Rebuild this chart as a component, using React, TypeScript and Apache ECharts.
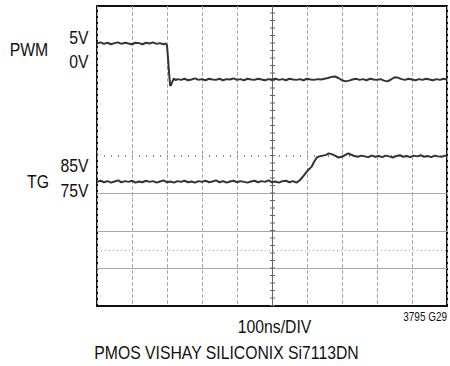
import React, { useEffect, useRef } from "react";
import * as echarts from "echarts";

// time (ns) vs screen divisions (0 = bottom, 8 = top)
const X_MIN = 0;
const X_MAX = 1000;
const X_STEP = 100;
const Y_MIN = 0;
const Y_MAX = 8;

const PWM_TRACE: [number, number][] = [
  [0, 7.0], [10, 7.03], [20, 6.99], [30, 7.02], [40, 6.98], [50, 7.01], [60, 7.03], [70, 6.99],
  [80, 7.02], [90, 7.0], [100, 6.98], [110, 7.02], [120, 7.01], [130, 6.98], [140, 7.02], [150, 7.0],
  [160, 7.03], [170, 6.99], [180, 7.01], [190, 6.98], [196, 7.0], [200, 6.95], [203, 6.6], [206, 6.2],
  [209, 5.87], [212, 5.9], [216, 6.0], [220, 6.07], [225, 6.02], [230, 6.05], [240, 6.03], [250, 6.06],
  [260, 6.02], [270, 6.04], [280, 6.07], [290, 6.03], [300, 6.05], [310, 6.02], [320, 6.06], [330, 6.04],
  [340, 6.03], [350, 6.06], [360, 6.02], [370, 6.05], [380, 6.04], [390, 6.07], [400, 6.03], [410, 6.05],
  [420, 6.02], [430, 6.06], [440, 6.04], [450, 6.03], [460, 6.06], [470, 6.04], [480, 6.02], [490, 6.05],
  [500, 6.04], [510, 6.06], [520, 6.03], [530, 6.05], [540, 6.02], [550, 6.06], [560, 6.04], [570, 6.03],
  [580, 6.05], [590, 6.02], [600, 6.06], [610, 6.04], [620, 6.03], [630, 6.05], [640, 6.04], [650, 6.06],
  [660, 6.08], [670, 6.11], [680, 6.12], [690, 6.08], [700, 6.02], [710, 5.99], [720, 6.01], [730, 6.04],
  [740, 6.06], [750, 6.03], [760, 6.05], [770, 6.02], [780, 6.06], [790, 6.04], [800, 6.03], [810, 6.05],
  [820, 6.01], [830, 5.99], [840, 6.04], [850, 6.1], [860, 6.09], [870, 6.05], [880, 6.03], [890, 6.06],
  [900, 6.04], [910, 6.02], [920, 6.05], [930, 6.03], [940, 6.06], [950, 6.04], [960, 6.02], [970, 6.05],
  [980, 6.03], [990, 6.06], [1000, 6.04],
];

const TG_TRACE: [number, number][] = [
  [0, 3.31], [10, 3.34], [20, 3.3], [30, 3.33], [40, 3.29], [50, 3.32], [60, 3.35], [70, 3.3],
  [80, 3.33], [90, 3.31], [100, 3.34], [110, 3.29], [120, 3.32], [130, 3.3], [140, 3.34], [150, 3.31],
  [160, 3.33], [170, 3.29], [180, 3.32], [190, 3.35], [200, 3.3], [210, 3.32], [220, 3.29], [230, 3.33],
  [240, 3.31], [250, 3.34], [260, 3.3], [270, 3.32], [280, 3.29], [290, 3.33], [300, 3.31], [310, 3.34],
  [320, 3.3], [330, 3.32], [340, 3.35], [350, 3.3], [360, 3.33], [370, 3.29], [380, 3.32], [390, 3.34],
  [400, 3.3], [410, 3.33], [420, 3.31], [430, 3.29], [440, 3.32], [450, 3.34], [460, 3.3], [470, 3.33],
  [480, 3.31], [490, 3.35], [500, 3.3], [510, 3.32], [520, 3.29], [530, 3.33], [540, 3.34], [550, 3.3],
  [560, 3.33], [570, 3.29], [580, 3.36], [590, 3.47], [600, 3.59], [607, 3.66], [613, 3.71], [620, 3.84],
  [628, 3.96], [635, 3.99], [645, 4.01], [655, 4.03], [662, 4.07], [670, 4.05], [680, 4.01], [690, 3.96],
  [700, 3.98], [710, 4.03], [718, 4.07], [725, 4.04], [735, 4.0], [745, 3.98], [755, 4.01], [765, 3.99],
  [775, 3.97], [785, 4.01], [795, 3.98], [805, 4.0], [815, 3.97], [825, 4.01], [835, 3.99], [845, 3.96],
  [855, 4.0], [865, 4.02], [875, 3.98], [885, 4.0], [895, 3.97], [905, 4.01], [915, 3.99], [925, 4.02],
  [935, 3.98], [945, 4.0], [955, 3.97], [965, 4.01], [975, 3.99], [985, 3.98], [995, 4.01], [1000, 3.99],
];

// graticule lines (in divisions / ns)
const SOLID_H_LINES = [1, 2, 3];
const DOTTED_H_LINES = [1.5];
const CENTER_H = 4;
const CENTER_V = 500;

const CHANNEL_LABELS = ["PWM", "TG"];
const SCALE_LABELS = ["5V", "0V", "85V", "75V"];
const X_TITLE = "100ns/DIV";
const FIG_ID = "3795 G29";
const CAPTION = "PMOS VISHAY SILICONIX Si7113DN";

const FONT = '"Liberation Sans", Arial, sans-serif';
const SX = 0.83;

function txt(text: string, x: number, y: number, size: number, align = "center") {
  return {
    type: "text",
    x,
    y,
    scaleX: SX,
    silent: true,
    style: {
      text,
      fontSize: size,
      fontFamily: FONT,
      fill: "#111",
      align,
      verticalAlign: "middle",
    },
  };
}

export default function App() {
  const ref = useRef<HTMLDivElement>(null);
  useEffect(() => {
    if (!ref.current) return;
    const chart = echarts.init(ref.current, null, { renderer: "svg" });
    const grey = "#a8a8a8";
    chart.setOption({
      animation: false,
      backgroundColor: "#fff",
      grid: {
        left: 97,
        top: 6,
        width: 350,
        height: 300,
        show: true,
        borderColor: "#111",
        borderWidth: 2,
        backgroundColor: "transparent",
      },
      xAxis: {
        type: "value",
        min: X_MIN,
        max: X_MAX,
        interval: X_STEP,
        axisLine: { show: false },
        axisTick: { show: false },
        axisLabel: { show: false },
        splitLine: { show: true, lineStyle: { color: grey, width: 1, type: [4, 2] } },
      },
      yAxis: {
        type: "value",
        min: Y_MIN,
        max: Y_MAX,
        interval: 1,
        axisLine: { show: false },
        axisTick: { show: false },
        axisLabel: { show: false },
        splitLine: { show: false },
      },
      series: [
        {
          type: "line",
          name: "grid",
          data: [],
          silent: true,
          markLine: {
            silent: true,
            symbol: ["none", "none"],
            label: { show: false },
            animation: false,
            data: [
              ...SOLID_H_LINES.map((v) => ({ yAxis: v, lineStyle: { color: grey, width: 1, type: "solid" } })),
              ...DOTTED_H_LINES.map((v) => ({ yAxis: v, lineStyle: { color: grey, width: 1, type: [1, 3] } })),
              { yAxis: CENTER_H, lineStyle: { color: "#888", width: 2, type: [1, 6] } },
              { xAxis: CENTER_V, lineStyle: { color: "#666", width: 1, type: "solid" } },
              { xAxis: CENTER_V, lineStyle: { color: "#666", width: 5, type: [1, 6.5] } },
            ],
          },
        },
        {
          type: "line",
          name: "PWM",
          data: PWM_TRACE,
          showSymbol: false,
          lineStyle: { color: "#333", width: 2 },
          z: 5,
        },
        {
          type: "line",
          name: "TG",
          data: TG_TRACE,
          showSymbol: false,
          lineStyle: { color: "#333", width: 2 },
          z: 5,
        },
      ],
      graphic: [
        txt(CHANNEL_LABELS[0], 29, 49, 19),
        txt(SCALE_LABELS[0], 79, 37, 19),
        txt(SCALE_LABELS[1], 79, 61, 19),
        txt(CHANNEL_LABELS[1], 38, 181, 19),
        txt(SCALE_LABELS[2], 74.5, 165, 19),
        txt(SCALE_LABELS[3], 74.5, 190, 19),
        txt(X_TITLE, 274.5, 326, 19),
        txt(FIG_ID, 447, 317, 12, "right"),
        txt(CAPTION, 226.5, 352, 19),
      ],
    });
    return () => chart.dispose();
  }, []);
  return (
    <div
      ref={ref}
      style={{ position: "fixed", left: 0, top: 0, width: 450, height: 366, background: "#fff" }}
    />
  );
}
